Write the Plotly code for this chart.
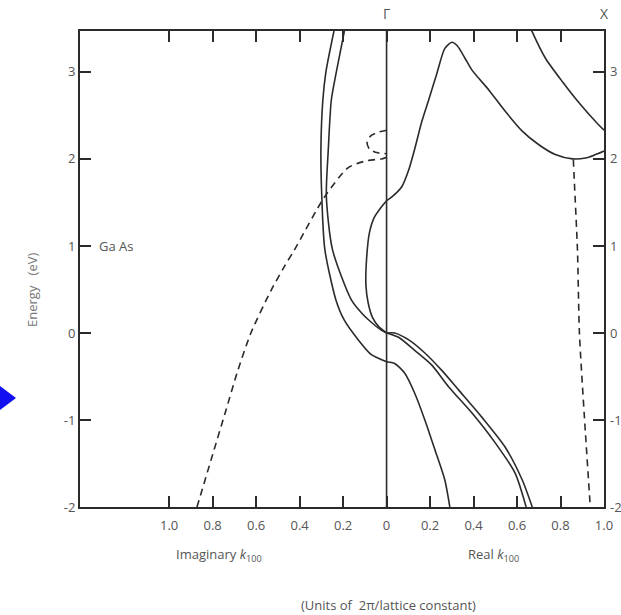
import plotly.graph_objects as go

# ---------------- data (k in units of 2*pi/a, E in eV) ----------------
# imaginary side (k_imag, plotted to the left of Gamma)
imag_so_k = [0.242, 0.279, 0.293, 0.302, 0.298, 0.284, 0.233, 0.195, 0.130, 0.070, 0.0]
imag_so_E = [3.47, 3.0, 2.68, 2.11, 1.57, 0.96, 0.38, 0.15, -0.08, -0.25, -0.33]

imag_hh_k = [0.194, 0.231, 0.254, 0.268, 0.277, 0.249, 0.162, 0.115, 0.069, 0.023, 0.0]
imag_hh_E = [3.47, 3.0, 2.68, 2.11, 1.57, 0.96, 0.38, 0.23, 0.12, 0.03, 0.0]

imag_gap_k = [0.0, 0.023, 0.056, 0.079, 0.092, 0.095, 0.085, 0.065, 0.035, 0.0]
imag_gap_E = [1.52, 1.45, 1.33, 1.15, 0.85, 0.55, 0.35, 0.18, 0.07, 0.0]

imag_dash_k = [0.872, 0.793, 0.739, 0.684, 0.624, 0.531, 0.471, 0.425, 0.286, 0.176, 0.09, 0.023, 0.0]
imag_dash_E = [-2.0, -1.34, -0.89, -0.43, 0.0, 0.49, 0.76, 0.95, 1.56, 1.9, 1.98, 2.0, 2.02]

imag_loop_k = [0.0, 0.035, 0.07, 0.09, 0.078, 0.04, 0.0]
imag_loop_E = [2.33, 2.31, 2.27, 2.2, 2.11, 2.07, 2.06]

# real side
cb_k = [0.0, 0.023, 0.07, 0.1, 0.13, 0.162, 0.194, 0.231, 0.268, 0.300, 0.325, 0.36, 0.393,
        0.471, 0.545, 0.624, 0.702, 0.776, 0.855, 0.915, 0.961, 1.0]
cb_E = [1.52, 1.56, 1.68, 1.86, 2.12, 2.43, 2.68, 2.98, 3.27, 3.34, 3.3, 3.16, 3.02,
        2.79, 2.55, 2.32, 2.16, 2.05, 2.0, 2.01, 2.05, 2.09]

cb2_k = [0.655, 0.67, 0.73, 0.808, 0.887, 0.961, 1.0]
cb2_E = [3.55, 3.46, 3.16, 2.89, 2.64, 2.43, 2.33]

vb1_k = [0.0, 0.037, 0.102, 0.176, 0.254, 0.333, 0.439, 0.545, 0.624, 0.67]
vb1_E = [0.0, 0.0, -0.08, -0.23, -0.43, -0.66, -0.97, -1.31, -1.69, -2.0]

vb2_k = [0.0, 0.055, 0.129, 0.208, 0.286, 0.393, 0.499, 0.591, 0.642]
vb2_E = [0.0, -0.05, -0.2, -0.37, -0.62, -0.92, -1.26, -1.61, -2.0]

so_k = [0.0, 0.037, 0.083, 0.129, 0.176, 0.222, 0.268, 0.291]
so_E = [-0.33, -0.35, -0.46, -0.69, -1.0, -1.34, -1.69, -2.0]

xdash_k = [0.859, 0.864, 0.878, 0.887, 0.91, 0.937]
xdash_E = [1.99, 1.72, 0.95, 0.0, -0.97, -2.0]

x_tickvals = [-1.0, -0.8, -0.6, -0.4, -0.2, 0.0, 0.2, 0.4, 0.6, 0.8, 1.0]
x_ticktext = ["1.0", "0.8", "0.6", "0.4", "0.2", "0", "0.2", "0.4", "0.6", "0.8", "1.0"]
y_tickvals = [-2, -1, 0, 1, 2, 3]
y_ticktext = ["-2", "-1", "0", "1", "2", "3"]

# ---------------- figure ----------------
LINE = "#2b2b2b"
TXT = "#555555"
FONT = "Open Sans"

fig = go.Figure()

def solid(k, E, imag=False, yaxis="y"):
    xs = [-v for v in k] if imag else k
    fig.add_trace(go.Scatter(x=xs, y=E, mode="lines", yaxis=yaxis,
                             line=dict(color=LINE, width=1.6, shape="spline", smoothing=0.7),
                             hoverinfo="skip", showlegend=False))

def dashed(k, E, imag=False, yaxis="y"):
    xs = [-v for v in k] if imag else k
    fig.add_trace(go.Scatter(x=xs, y=E, mode="lines", yaxis=yaxis,
                             line=dict(color=LINE, width=1.6, dash="7px,5px",
                                       shape="spline", smoothing=0.7),
                             hoverinfo="skip", showlegend=False))

solid(imag_so_k, imag_so_E, imag=True)
solid(imag_hh_k, imag_hh_E, imag=True)
solid(imag_gap_k, imag_gap_E, imag=True)
dashed(imag_dash_k, imag_dash_E, imag=True)
dashed(imag_loop_k, imag_loop_E, imag=True)
solid(cb_k, cb_E)
solid(cb2_k, cb2_E)
solid(vb1_k, vb1_E)
solid(vb2_k, vb2_E)
solid(so_k, so_E)
dashed(xdash_k, xdash_E, yaxis="y2")

YR = [-2.0, 3.47]
XR = [-1.41, 1.0]

fig.update_layout(
    width=621, height=615, autosize=False,
    margin=dict(l=80, r=17, t=31, b=108),
    paper_bgcolor="white", plot_bgcolor="white",
    font=dict(family=FONT, color=TXT, size=13),
    showlegend=False,
    xaxis=dict(range=XR, tickvals=x_tickvals, ticktext=x_ticktext,
               ticks="inside", ticklen=11, tickwidth=1.6, tickcolor=LINE,
               showline=True, linecolor=LINE, linewidth=2, mirror="ticks",
               showgrid=False, zeroline=False, fixedrange=True, automargin=False,
               ticklabelstandoff=5,
               tickfont=dict(size=13, color=TXT)),
    yaxis=dict(range=YR, tickvals=y_tickvals, ticktext=y_ticktext,
               ticks="inside", ticklen=11, tickwidth=1.6, tickcolor=LINE,
               showline=True, linecolor=LINE, linewidth=2, mirror=True,
               showgrid=False, zeroline=False, fixedrange=True, automargin=False,
               tickfont=dict(size=13, color=TXT)),
    yaxis2=dict(range=YR, tickvals=y_tickvals, ticktext=y_ticktext,
                overlaying="y", side="right",
                ticks="inside", ticklen=11, tickwidth=1.6, tickcolor=LINE,
                showline=False, showgrid=False, zeroline=False, fixedrange=True,
                automargin=False, ticklabelstandoff=5,
                tickfont=dict(size=13, color=TXT)),
)

# Gamma vertical line
fig.add_shape(type="line", xref="x", yref="paper", x0=0, x1=0, y0=0, y1=1,
              line=dict(color=LINE, width=1.6))

# blue arrow marker at left edge
fig.add_shape(type="path", xref="paper", yref="paper",
              path="M -0.172,0.270 L -0.1221,0.229 L -0.172,0.188 Z",
              fillcolor="#1010f0", line=dict(width=0))

ann = [
    dict(x=0, y=1.036, xref="x", yref="paper", text="Γ", showarrow=False,
         font=dict(size=14, color=TXT), xanchor="center", yanchor="middle"),
    dict(x=1.0, y=1.036, xref="x", yref="paper", text="X", showarrow=False,
         font=dict(size=14, color=TXT), xanchor="center", yanchor="middle"),
    dict(x=0.032, y=1.0, xref="paper", yref="y", text="Ga As", showarrow=False,
         font=dict(size=13, color=TXT), xanchor="left", yanchor="middle"),
    dict(x=-0.0916, y=0.456, xref="paper", yref="paper", text="Energy   (eV)",
         showarrow=False, textangle=-90, font=dict(size=13, color="#777777"),
         xanchor="center", yanchor="middle"),
    dict(x=0.265, y=-0.101, xref="paper", yref="paper",
         text="Imaginary <i>k</i><sub>100</sub>", showarrow=False,
         font=dict(size=13, color=TXT), xanchor="center", yanchor="middle"),
    dict(x=0.79, y=-0.101, xref="paper", yref="paper",
         text="Real <i>k</i><sub>100</sub>", showarrow=False,
         font=dict(size=13, color=TXT), xanchor="center", yanchor="middle"),
    dict(x=0.588, y=-0.206, xref="paper", yref="paper",
         text="(Units of  2π/lattice constant)", showarrow=False,
         font=dict(size=13, color=TXT), xanchor="center", yanchor="middle"),
]
fig.update_layout(annotations=ann)

fig.write_html("out.html", config={"displayModeBar": False},
               post_script="document.body.style.margin='0';")
